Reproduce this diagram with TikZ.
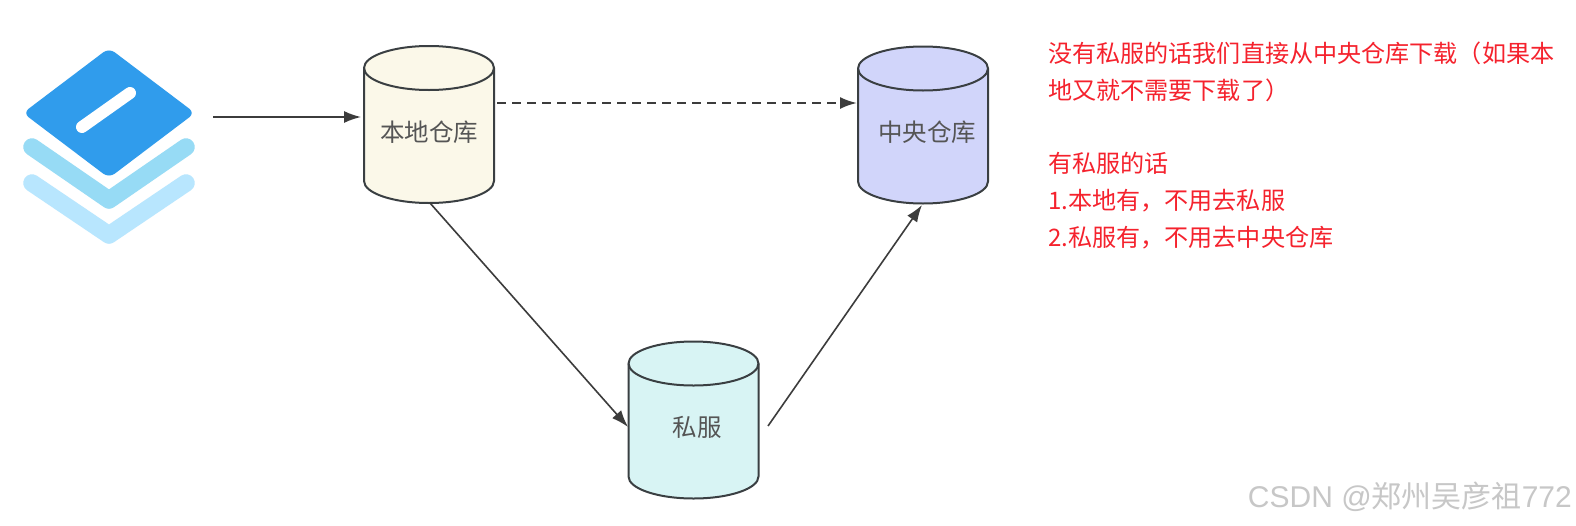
\documentclass[tikz,border=0pt]{standalone}
\usepackage{fontspec}
\setmainfont{Noto Sans CJK SC}
\newfontfamily\latinwm{Liberation Sans}
\usetikzlibrary{arrows.meta,calc}
\definecolor{cylstroke}{HTML}{3A3F42}
\definecolor{linkcol}{HTML}{3C3C3C}
\definecolor{noteRed}{HTML}{F5222D}
\definecolor{lblgray}{HTML}{555555}
\definecolor{localfill}{HTML}{FBF8E9}
\definecolor{centralfill}{HTML}{D1D5FA}
\definecolor{privatefill}{HTML}{D8F4F4}
\definecolor{iconA}{HTML}{309CEC}
\definecolor{iconB}{HTML}{97DBF5}
\definecolor{iconC}{HTML}{B8E6FE}
\tikzset{
  dbcyl/.style={rectangle,minimum width=130pt,minimum height=157pt,inner sep=0pt,outer sep=0pt},
  dbline/.style={draw=cylstroke,line width=2pt},
  dblabel/.style={text=lblgray,font=\fontsize{24.5}{28}\selectfont,inner sep=0pt},
  link/.style={draw=linkcol,line width=1.6pt,-{Latex[length=17pt,width=12pt]}},
  chevron/.style={line width=17.5pt,line cap=round,line join=round},
  notes/.style={text=noteRed,font=\fontsize{24.1}{36.7}\selectfont,align=left,inner sep=0pt,anchor=north west},
  mark text/.style={text=black!22,font=\fontsize{30}{32}\selectfont,inner sep=0pt,anchor=east}
}
\newcommand{\dbbody}[2]{%
  \path[dbline,fill=#2] ($(#1.north west)+(0,22)$) -- ($(#1.south west)+(0,-22)$)
     arc[start angle=180,end angle=360,x radius=65pt,y radius=22pt]
     -- ($(#1.north east)+(0,22)$)
     arc[start angle=0,end angle=180,x radius=65pt,y radius=22pt] -- cycle;
  \path[dbline] ($(#1.north west)+(0,22)$)
     arc[start angle=180,end angle=360,x radius=65pt,y radius=22pt];
}
\begin{document}
\begin{tikzpicture}[x=1pt,y=-1pt]
\useasboundingbox (0,0) rectangle (1576,525);
\fill[white] (0,0) rectangle (1576,525);
% icon
\draw[chevron,iconC] (32,183) -- (109,235) -- (186,183);
\draw[chevron,iconB] (32,147) -- (109,200) -- (186,147);
\fill[iconA,rounded corners=7pt] (109,48) -- (195,113) -- (109,178) -- (23,113) -- cycle;
\draw[white,line width=12pt,line cap=round] (82,127) -- (130,93);
% cylinders
\node[dbcyl] (local) at (429,124.5) {};
\node[dbcyl] (central) at (923,125) {};
\node[dbcyl] (private) at (693.5,420) {};
\dbbody{local}{localfill}
\dbbody{central}{centralfill}
\dbbody{private}{privatefill}
\node[dblabel] (locallabel) at (429,132) {本地仓库};
\node[dblabel] (centrallabel) at (927,132) {中央仓库};
\node[dblabel] (privatelabel) at (697,427) {私服};
% connectors
\coordinate (iconout) at (213,117);
\coordinate (localin) at (361,117);
\coordinate (localout) at (497,103);
\coordinate (centralin) at (857,103);
\coordinate (localbottom) at (430,203);
\coordinate (privatein) at (628,427);
\coordinate (privateout) at (768,426);
\coordinate (centralbottom) at (922,205);
\draw[link] (iconout) -- (localin);
\draw[link,dash pattern=on 9pt off 6pt,line width=2.2pt] (localout) -- (centralin);
\draw[link] (localbottom) -- (privatein);
\draw[link] (privateout) -- (centralbottom);
% notes
\node[notes] (notes) at (1048,42) {没有私服的话我们直接从中央仓库下载（如果本\\地又就不需要下载了）\\\mbox{}\\有私服的话\\1.本地有，不用去私服\\2.私服有，不用去中央仓库};
\node[mark text] (watermark) at (1572,497) {{\latinwm CSDN @}郑州吴彦祖{\latinwm 772}};
\end{tikzpicture}
\end{document}
